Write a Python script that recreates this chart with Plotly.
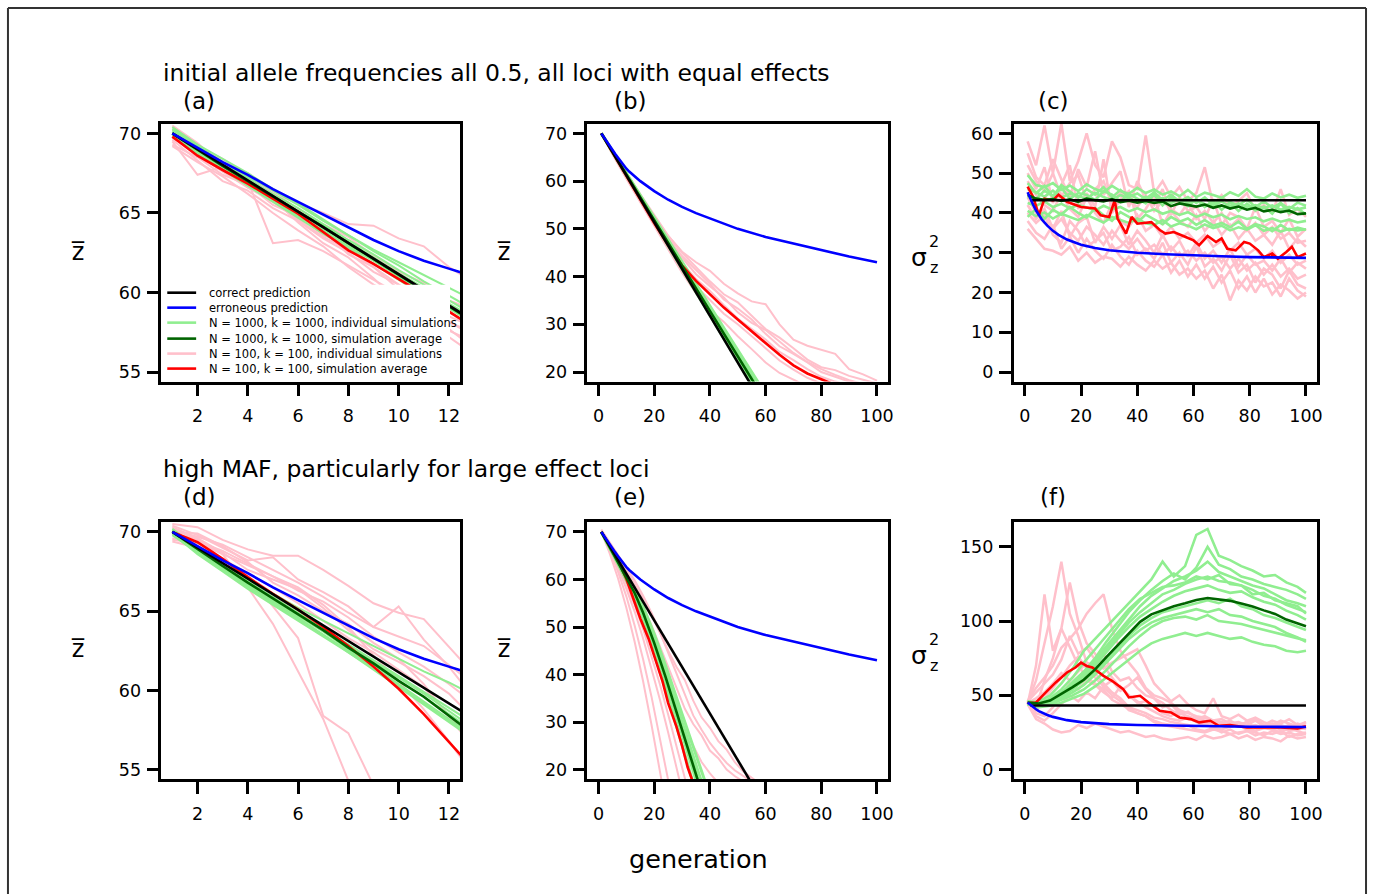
import plotly.graph_objects as go

W, H = 1376, 895

# ---------------- shared prediction curves ----------------
mean_black_gen = [1, 13, 55]
mean_black_val = [70.0, 58.2, 17.1]

mean_blue_gen = [1, 2, 3, 4, 5, 6, 7, 8, 9, 10, 11, 12, 13, 15, 20, 25, 30, 35, 40, 50, 60, 70, 80, 90, 100]
mean_blue_val = [70.0, 69.1, 68.2, 67.4, 66.5, 65.7, 64.9, 64.1, 63.3, 62.6, 62.0, 61.5, 61.0, 60.0, 57.9,
                 56.1, 54.6, 53.3, 52.2, 50.0, 48.3, 46.9, 45.5, 44.2, 43.0]

var_black_gen = [2, 100]
var_black_val = [43.2, 43.2]

var_blue_gen = [1, 2, 3, 4, 5, 6, 8, 10, 12, 15, 20, 25, 30, 40, 50, 60, 70, 80, 90, 100]
var_blue_val = [45.2, 43.5, 42.0, 40.6, 39.4, 38.4, 36.8, 35.5, 34.5, 33.3, 32.0, 31.2, 30.6, 30.0,
                29.6, 29.3, 29.1, 28.9, 28.8, 28.7]

# ---------------- panel (a) ----------------
a_gen = list(range(1, 14))
a_red = [69.8, 68.6, 67.7, 66.85, 65.9, 64.95, 63.8, 62.65, 61.8, 60.85, 59.9, 58.8, 57.8]
a_dkgreen = [70.0, 68.95, 67.95, 67.0, 66.05, 65.12, 64.12, 63.1, 62.1, 61.1, 60.12, 59.15, 58.15]
a_green_sims = [
    [70.3, 69.2, 68.2, 67.3, 66.4, 65.5, 64.5, 63.6, 62.7, 61.9, 61.1, 60.3, 59.5],
    [70.1, 69.0, 68.0, 67.1, 66.2, 65.3, 64.3, 63.3, 62.4, 61.4, 60.5, 59.5, 58.6],
    [69.9, 68.8, 67.8, 66.8, 65.8, 64.8, 63.9, 62.9, 62.0, 61.0, 60.0, 59.0, 58.0],
    [70.2, 69.1, 68.1, 67.2, 66.1, 65.1, 64.2, 63.2, 62.2, 61.2, 60.3, 59.3, 58.4],
    [70.0, 68.9, 67.9, 66.9, 66.0, 65.0, 64.0, 63.0, 62.1, 61.1, 60.1, 59.1, 58.1],
    [70.4, 69.3, 68.4, 67.5, 66.5, 65.6, 64.6, 63.6, 62.6, 61.7, 60.7, 59.8, 58.9],
    [69.8, 68.7, 67.7, 66.7, 65.7, 64.7, 63.7, 62.8, 61.8, 60.8, 59.8, 58.8, 57.8],
]
a_pink_sims = [
    [69.5, 67.4, 67.9, 66.6, 65.7, 64.6, 63.5, 62.7, 61.6, 60.5, 59.4, 58.2, 57.2],
    [70.2, 69.3, 68.2, 67.0, 63.1, 63.3, 62.6, 61.7, 60.8, 59.9, 59.0, 58.1, 57.5],
    [69.9, 69.0, 68.0, 67.1, 66.3, 65.6, 65.0, 64.3, 64.2, 63.4, 62.9, 61.6, 60.6],
    [70.4, 69.2, 68.4, 67.4, 66.2, 65.0, 63.9, 62.4, 61.6, 60.2, 59.1, 57.7, 56.5],
    [69.6, 68.3, 67.0, 66.4, 65.3, 64.5, 63.4, 62.5, 61.3, 60.5, 59.4, 58.5, 57.8],
    [70.0, 68.7, 67.6, 66.6, 65.9, 64.4, 63.1, 62.2, 60.9, 59.4, 58.3, 57.2, 56.1],
    [69.3, 68.5, 67.4, 66.8, 65.5, 64.8, 64.0, 62.9, 62.0, 61.2, 60.0, 59.1, 58.3],
    [70.5, 69.4, 68.0, 67.5, 66.4, 65.2, 64.3, 63.5, 62.3, 61.3, 60.6, 59.5, 58.9],
    [69.2, 68.2, 67.3, 66.2, 65.0, 63.9, 62.9, 61.6, 60.5, 59.7, 58.5, 57.6, 56.9],
    [69.7, 68.9, 67.8, 66.9, 65.8, 64.9, 63.6, 63.0, 62.2, 61.0, 59.8, 58.9, 57.4],
]

# ---------------- panel (b) ----------------
b_red_gen = [1, 5, 10, 15, 20, 25, 30, 35, 40, 45, 50, 55, 60, 65, 70, 75, 80, 85]
b_red = [70.0, 66.0, 60.9, 56.0, 51.2, 46.6, 42.3, 39.1, 36.2, 33.5, 31.0, 28.5, 26.0, 23.6, 21.4, 19.7, 18.5, 17.3]
b_green_gen = [1, 10, 20, 30, 40, 50, 60]
b_dkgreen = [70.0, 61.3, 51.8, 42.3, 32.8, 23.3, 13.8]
b_green_sims = [
    [70.0, 61.3, 51.6, 42.0, 32.4, 22.8, 13.2],
    [70.0, 61.5, 52.0, 42.6, 33.2, 23.8, 14.4],
    [70.0, 61.6, 52.3, 43.0, 33.8, 24.6, 15.4],
    [70.0, 61.1, 51.3, 41.6, 31.9, 22.2, 12.5],
]
b_pink_gen = [1, 5, 10, 15, 20, 25, 30, 35, 40, 45, 50, 55, 60, 65, 70, 75, 80, 85, 90, 95, 100]
b_pink_sims = [
    [70.0, 66.3, 61.5, 57.0, 52.5, 48.5, 45.2, 43.0, 41.2, 38.5, 36.5, 34.8, 34.2, 30.0, 26.8, 25.5, 24.6, 23.8, 20.6, 19.5, 18.2],
    [70.0, 66.0, 61.0, 56.4, 52.0, 47.8, 43.9, 40.5, 38.0, 35.6, 32.5, 30.3, 28.8, 26.5, 24.0, 22.1, 20.6, 19.4, 18.3, 17.5],
    [70.0, 65.8, 60.7, 55.8, 51.0, 46.0, 41.5, 38.0, 35.2, 32.2, 30.0, 27.6, 25.0, 22.4, 20.5, 18.8, 17.6],
    [70.0, 66.1, 61.2, 56.6, 52.3, 48.0, 44.3, 41.4, 38.5, 35.2, 33.3, 31.0, 28.0, 25.4, 23.8, 22.0, 20.0, 19.0, 18.0, 17.2],
    [70.0, 65.6, 60.5, 55.5, 50.6, 45.5, 40.8, 36.5, 33.0, 30.5, 27.5, 24.8, 22.0, 19.8, 18.3, 17.0],
    [70.0, 66.4, 61.6, 57.2, 52.8, 48.6, 45.0, 42.0, 39.0, 36.3, 34.6, 31.8, 29.0, 27.2, 25.0, 22.6, 21.0, 20.4, 19.2, 18.4, 17.6],
    [70.0, 65.9, 61.1, 56.2, 51.6, 47.0, 42.8, 39.5, 37.0, 34.0, 31.2, 29.0, 26.8, 24.2, 22.5, 20.6, 19.0, 18.0, 17.2],
]

# ---------------- panel (c) ----------------
c_gen = list(range(1, 101, 3))
c_dkgreen = [44.5, 43.6, 43.3, 43.5, 43.0, 43.4, 42.8, 43.6, 43.2, 42.9, 43.5, 42.7, 43.1, 42.6, 43.0, 42.5, 42.9,
             41.7, 42.4, 42.0, 41.6, 42.1, 41.3, 41.9, 41.1, 41.6, 40.8, 41.3, 40.4, 40.8, 40.2, 40.6, 39.7, 39.9]
c_red_gen = [1, 3, 5, 7, 10, 12, 15, 20, 25, 27, 30, 32, 33, 36, 38, 40, 45, 48, 50, 53, 57, 60, 62, 65, 68, 70,
             72, 75, 78, 80, 83, 85, 88, 90, 93, 95, 97, 99, 100]
c_red = [46.6, 44.0, 39.4, 43.6, 43.2, 44.6, 42.8, 41.5, 41.1, 39.4, 39.0, 43.2, 38.6, 34.8, 39.0, 37.3, 37.7,
         35.7, 34.8, 35.2, 34.0, 33.1, 31.9, 34.2, 32.7, 33.6, 31.0, 30.6, 32.7, 32.3, 30.6, 28.9, 29.8, 28.5,
         30.2, 31.5, 28.9, 29.4, 29.8]
c_green_sims = [
    [49.5, 47.0, 46.5, 47.5, 45.8, 46.9, 45.5, 47.2, 46.0, 45.2, 46.8, 45.5, 44.8, 46.3, 45.0, 45.9, 44.6, 45.4,
     44.2, 45.8, 44.0, 45.1, 44.5, 43.8, 45.2, 44.3, 46.0, 44.1, 43.6, 44.9, 43.9, 44.6, 43.8, 44.3],
    [40.5, 39.2, 40.1, 38.6, 39.8, 38.9, 38.2, 39.5, 38.5, 37.6, 39.0, 38.2, 37.5, 38.6, 37.4, 37.0, 38.2, 36.6,
     37.4, 36.8, 35.9, 37.1, 36.2, 36.8, 35.6, 36.4, 35.8, 36.9, 35.5, 36.2, 35.3, 36.0, 35.6, 35.9],
    [46.0, 45.2, 44.1, 45.6, 43.9, 44.8, 44.2, 43.6, 45.1, 44.0, 43.2, 44.5, 43.7, 42.8, 44.1, 43.0, 43.8, 42.5,
     43.4, 42.6, 43.3, 42.2, 41.8, 42.9, 41.6, 42.4, 41.5, 42.0, 41.2, 41.9, 40.8, 41.5, 40.9, 41.4],
    [42.5, 41.8, 42.9, 41.5, 42.3, 41.2, 42.0, 41.4, 40.6, 41.8, 40.9, 41.5, 40.4, 41.2, 40.2, 40.9, 39.8, 40.5,
     39.5, 40.2, 39.0, 39.8, 38.9, 39.6, 38.4, 39.2, 38.5, 38.9, 37.9, 38.6, 37.8, 38.3, 37.6, 38.0],
    [44.0, 43.5, 45.6, 44.2, 46.3, 43.6, 45.0, 44.5, 43.2, 45.5, 44.6, 42.9, 44.8, 43.6, 42.4, 44.6, 41.9, 43.9,
     42.8, 41.7, 43.5, 41.5, 43.0, 40.8, 42.6, 40.5, 42.3, 40.6, 41.6, 39.8, 42.4, 39.9, 41.2, 39.6],
    [47.5, 45.0, 46.8, 44.2, 47.0, 45.3, 43.8, 46.0, 44.6, 46.5, 43.9, 45.8, 44.0, 44.9, 43.5, 45.2, 43.2, 44.6,
     42.9, 44.0, 42.5, 43.9, 42.0, 43.6, 42.8, 41.9, 43.4, 41.5, 42.9, 41.3, 42.5, 41.0, 42.6, 41.8],
    [39.0, 41.0, 38.5, 40.8, 39.6, 41.5, 40.0, 38.8, 41.2, 39.4, 38.0, 40.2, 39.0, 37.6, 39.6, 38.4, 37.2, 39.0,
     37.8, 38.6, 37.0, 38.2, 36.8, 37.5, 36.4, 37.8, 36.0, 37.2, 36.6, 35.4, 37.0, 35.6, 36.3, 35.8],
]
c_pink_sims = [
    [58.0, 52.0, 62.0, 50.0, 62.5, 48.0, 53.0, 60.0, 52.0, 49.0, 58.0, 54.0, 47.0, 46.0, 59.5, 45.0, 48.0, 44.0,
     46.5, 43.0, 45.0, 51.5, 42.0, 44.5, 41.5, 43.0, 45.0, 40.5, 42.0, 40.0, 46.0, 39.5, 41.0, 39.0],
    [36.0, 33.5, 31.0, 30.5, 29.5, 31.5, 28.0, 30.0, 27.5, 29.0, 28.5, 26.5, 29.0, 27.0, 25.5, 28.0, 26.0, 27.5,
     24.5, 26.0, 23.5, 25.5, 21.0, 24.5, 18.0, 23.0, 20.5, 24.0, 21.5, 22.5, 19.0, 23.5, 20.5, 19.0],
    [52.0, 48.0, 45.5, 50.0, 44.0, 47.5, 49.5, 43.0, 46.0, 48.0, 42.0, 45.5, 43.0, 41.5, 44.5, 40.5, 43.0, 41.0,
     39.5, 42.5, 38.5, 40.5, 37.5, 40.0, 36.5, 38.5, 35.5, 37.5, 34.5, 36.5, 33.5, 35.0, 32.5, 33.0],
    [44.0, 40.0, 37.5, 36.0, 38.5, 35.0, 33.0, 36.5, 34.5, 32.0, 35.5, 33.0, 31.0, 33.5, 30.5, 32.0, 29.5, 31.5,
     29.0, 30.5, 28.0, 30.0, 27.5, 29.0, 26.0, 28.5, 25.5, 27.5, 24.5, 27.0, 24.0, 26.0, 23.5, 24.5],
    [48.0, 44.5, 42.0, 40.5, 45.0, 41.0, 39.0, 44.0, 40.0, 37.5, 42.5, 38.0, 36.5, 39.5, 35.5, 37.0, 34.0, 36.5,
     33.5, 35.0, 32.5, 34.5, 31.5, 33.0, 30.5, 32.5, 29.5, 31.0, 28.5, 30.5, 27.5, 29.5, 27.0, 28.0],
    [40.0, 37.5, 39.5, 34.5, 32.5, 38.0, 35.5, 31.5, 33.0, 35.0, 30.5, 31.5, 34.0, 29.5, 31.0, 28.5, 32.5, 27.5,
     30.0, 27.0, 31.5, 26.5, 28.5, 25.5, 29.5, 25.0, 27.0, 22.5, 26.0, 24.5, 21.0, 25.5, 22.0, 21.0],
    [55.0, 49.0, 47.0, 53.5, 48.5, 44.0, 51.0, 46.5, 55.5, 44.5, 47.5, 50.5, 41.5, 48.0, 43.5, 42.0, 46.0, 39.5,
     44.0, 40.5, 41.5, 38.5, 43.5, 37.0, 40.0, 39.0, 36.0, 41.5, 36.5, 38.0, 35.0, 38.5, 34.0, 36.0],
    [38.0, 35.0, 33.5, 37.0, 31.0, 34.0, 30.0, 33.5, 30.5, 28.5, 32.0, 29.0, 27.0, 30.5, 28.0, 26.5, 29.5, 25.0,
     28.0, 24.0, 27.0, 23.5, 26.5, 22.5, 25.5, 21.0, 24.0, 20.0, 23.5, 19.5, 22.0, 20.5, 18.5, 20.0],
    [50.0, 46.0, 51.5, 42.5, 47.0, 52.0, 41.0, 45.0, 41.5, 53.5, 40.0, 43.5, 45.5, 38.5, 41.0, 44.5, 37.0, 40.5,
     38.0, 36.5, 39.5, 35.5, 38.0, 34.5, 37.0, 33.5, 36.0, 33.0, 34.5, 32.0, 35.5, 31.0, 33.5, 31.5],
    [42.0, 38.5, 41.0, 36.0, 40.5, 34.0, 37.5, 39.0, 32.5, 36.5, 33.5, 37.0, 32.0, 35.5, 33.0, 30.0, 34.5, 30.5,
     33.0, 29.0, 32.5, 28.5, 30.5, 27.5, 31.0, 26.5, 29.5, 27.0, 28.0, 25.5, 28.5, 25.0, 27.5, 26.0],
]

# ---------------- panel (d) ----------------
d_gen = list(range(1, 14))
d_red = [70.0, 69.35, 68.3, 67.15, 66.1, 65.1, 64.0, 62.8, 61.5, 60.1, 58.5, 56.7, 55.0]
d_dkgreen = [70.0, 68.9, 67.85, 66.8, 65.8, 64.8, 63.8, 62.7, 61.7, 60.6, 59.6, 58.4, 57.2]
d_green_sims = [
    [70.1, 69.0, 68.0, 67.0, 66.1, 65.2, 64.4, 63.6, 62.8, 62.0, 61.2, 60.5, 59.7],
    [70.0, 68.8, 67.7, 66.7, 65.7, 64.7, 63.7, 62.6, 61.6, 60.6, 59.6, 58.5, 57.4],
    [69.9, 68.6, 67.5, 66.4, 65.4, 64.4, 63.4, 62.4, 61.3, 60.2, 59.1, 58.0, 56.9],
    [70.2, 69.0, 67.9, 66.9, 65.9, 64.9, 63.9, 62.9, 61.9, 60.9, 59.9, 58.9, 57.9],
    [69.8, 68.7, 67.6, 66.6, 65.6, 64.6, 63.5, 62.5, 61.5, 60.4, 59.3, 58.2, 57.1],
    [70.0, 68.9, 67.8, 66.8, 65.8, 64.8, 63.8, 62.8, 61.8, 60.8, 59.8, 58.7, 57.6],
    [70.1, 68.8, 67.6, 66.5, 65.5, 64.5, 63.5, 62.4, 61.4, 60.3, 59.2, 58.1, 57.0],
]
d_pink_sims = [
    [70.5, 70.3, 69.5, 68.9, 68.5, 68.5, 67.6, 66.6, 65.5, 64.9, 64.5, 62.8, 61.0],
    [70.2, 69.5, 68.6, 66.5, 64.2, 61.2, 58.2, 54.3],
    [69.8, 69.6, 68.2, 67.3, 65.3, 63.3, 58.4, 57.3, 54.0],
    [70.4, 69.8, 69.0, 68.2, 68.4, 67.0, 66.2, 65.3, 64.0, 65.3, 63.2, 61.5, 59.5],
    [69.5, 69.3, 68.6, 67.9, 67.2, 66.3, 65.6, 64.6, 63.4, 62.4, 61.5, 60.4, 59.2],
    [70.0, 69.9, 69.1, 68.1, 66.8, 66.0, 65.0, 64.2, 63.0, 62.0, 60.4, 58.3, 56.3],
    [69.6, 69.4, 68.8, 68.0, 67.2, 66.5, 65.4, 64.0, 62.2, 60.6, 58.8, 56.8, 54.6],
    [70.1, 69.7, 69.2, 68.4, 67.6, 66.8, 65.9, 64.9, 64.0, 63.4, 62.8, 61.6, 60.4],
    [69.4, 69.0, 68.3, 67.4, 66.5, 65.5, 64.4, 63.3, 62.4, 61.3, 60.2, 58.4, 56.6],
    [70.3, 69.6, 68.7, 67.6, 67.0, 66.4, 65.2, 63.8, 62.6, 61.8, 60.9, 59.8, 58.2],
]

# ---------------- panel (e) ----------------
e_red_gen = [1, 4, 7, 10, 12, 13, 15, 18, 20, 23, 25, 28, 30, 32, 35]
e_red = [70.0, 67.15, 64.0, 60.1, 56.7, 55.0, 51.8, 47.5, 44.0, 38.5, 34.0, 29.0, 25.0, 20.5, 15.5]
e_green_gen = [1, 4, 7, 10, 13, 16, 20, 24, 28, 32, 36, 40]
e_dkgreen = [70.0, 66.8, 63.7, 60.5, 57.1, 53.0, 46.6, 39.6, 32.3, 24.8, 17.2, 9.6]
e_green_sims = [
    [70.0, 66.6, 63.4, 60.1, 56.4, 51.8, 44.6, 37.0, 29.2, 20.5, 12.0, 5.0],
    [70.0, 67.0, 64.2, 61.2, 58.0, 54.3, 48.5, 42.0, 35.2, 28.3, 21.5, 14.5],
    [70.0, 66.9, 63.9, 60.8, 57.5, 53.6, 47.5, 40.8, 33.6, 26.3, 19.0, 12.0],
    [70.0, 66.7, 63.6, 60.4, 56.9, 52.6, 46.0, 38.8, 31.4, 23.6, 15.8, 8.0],
    [70.0, 66.8, 63.8, 60.6, 57.2, 53.1, 46.8, 39.8, 32.5, 25.0, 17.4, 10.0],
]
e_pink_gen = list(range(1, 59, 3))
e_pink_sims = [
    [70.0, 65.5, 60.2, 54.0, 46.8, 38.6, 29.5, 19.6, 10.0],
    [70.0, 66.0, 61.6, 56.4, 50.2, 43.2, 35.4, 27.0, 18.0, 9.0],
    [70.0, 66.3, 62.4, 58.0, 53.2, 47.6, 41.4, 34.8, 27.8, 20.6, 13.0],
    [70.0, 66.5, 63.0, 59.0, 54.6, 49.6, 44.0, 38.0, 31.6, 25.0, 18.2, 11.5],
    [70.0, 67.2, 64.6, 62.0, 59.0, 56.0, 52.6, 48.8, 45.0, 41.6, 38.8, 34.5, 31.0, 28.8, 26.0, 24.2, 21.5, 19.6, 18.4, 17.0],
    [70.0, 67.0, 64.2, 61.4, 58.0, 54.4, 50.4, 46.2, 41.6, 37.2, 32.8, 29.6, 27.2, 24.0, 22.4, 20.0, 18.6, 17.5],
    [70.0, 66.9, 63.9, 60.7, 57.2, 53.2, 48.6, 43.4, 37.8, 32.6, 28.4, 25.0, 21.6, 19.2, 17.2],
    [70.5, 67.8, 65.2, 62.6, 59.8, 56.6, 53.0, 49.0, 44.6, 40.0, 35.4, 31.4, 28.4, 25.6, 23.4, 21.4, 19.8, 18.6, 17.5],
]

# ---------------- panel (f) ----------------
f_green_gen = list(range(1, 98, 4)) + [100]
f_dkgreen = [45.2, 44.5, 46.5, 50.8, 55.5, 60.5, 67.5, 75.8, 83.5, 91.5, 99.5, 104.5, 107.5, 110.0, 112.0,
             114.2, 115.5, 114.8, 113.6, 111.8, 109.8, 107.2, 104.8, 101.0, 98.2, 96.5]
f_red_gen = [1, 4, 8, 11, 15, 18, 20, 22, 24, 28, 31, 35, 37, 41, 44, 48, 52, 55, 59, 62, 66, 69, 73, 79, 85,
             91, 97, 100]
f_red = [44.8, 45.2, 53.0, 58.7, 65.4, 68.7, 72.0, 69.8, 68.7, 63.1, 59.8, 54.2, 48.6, 49.7, 45.2, 39.6, 38.5,
         35.1, 34.0, 31.8, 32.9, 29.5, 30.0, 28.4, 28.4, 28.4, 27.8, 29.1]
f_green_sims = [
    [45, 46, 50, 58, 68, 80, 88, 96, 104, 112, 120, 128, 140, 130, 137, 158, 162, 144, 141, 137, 134, 130, 131, 126, 123, 119],
    [46, 44, 47, 52, 58, 65, 74, 83, 92, 101, 110, 117, 122, 127, 130, 134, 140, 133, 130, 127, 124, 122, 118, 114, 112, 110],
    [44, 43, 45, 49, 54, 60, 66, 74, 82, 90, 97, 102, 106, 108, 110, 112, 114, 112, 115, 110, 108, 104, 102, 99, 96, 94],
    [44, 42, 43, 45, 48, 51, 56, 62, 68, 74, 80, 85, 88, 90, 92, 90, 92, 90, 88, 89, 86, 84, 83, 80, 79, 80],
    [45, 44, 46, 50, 56, 62, 70, 79, 88, 96, 103, 108, 113, 117, 120, 122, 124, 121, 119, 120, 116, 113, 111, 107, 104, 101],
    [45, 43, 45, 48, 52, 57, 64, 72, 80, 88, 94, 99, 102, 104, 106, 108, 106, 108, 104, 103, 100, 98, 96, 92, 89, 86],
    [46, 45, 47, 51, 57, 64, 72, 81, 90, 99, 106, 112, 118, 121, 125, 128, 130, 127, 126, 124, 121, 117, 115, 111, 108, 106],
    [45, 44, 46, 51, 59, 66, 75, 86, 96, 106, 114, 121, 127, 132, 128, 136, 150, 138, 135, 130, 128, 125, 123, 121, 118, 115],
    [44, 43, 44, 47, 50, 54, 60, 67, 75, 83, 90, 96, 100, 102, 103, 101, 104, 100, 99, 98, 96, 94, 92, 90, 88, 87],
    [46, 44, 48, 54, 62, 72, 81, 90, 99, 108, 115, 119, 123, 124, 126, 130, 128, 131, 125, 124, 118, 119, 114, 112, 110, 105],
]
f_pink_gen = list(range(1, 101, 3))
f_pink_sims = [
    [45, 60, 85, 110, 140, 105, 90, 72, 65, 58, 52, 48, 42, 40, 38, 35, 34, 32, 31, 30, 29, 31, 28, 27, 29, 30, 27, 26, 28, 27, 29, 26, 27, 28],
    [44, 70, 118, 80, 95, 126, 100, 85, 78, 70, 62, 55, 50, 46, 42, 39, 36, 34, 33, 35, 32, 30, 33, 31, 29, 30, 32, 28, 29, 31, 28, 30, 29, 30],
    [46, 55, 62, 70, 82, 88, 95, 105, 112, 118, 95, 80, 72, 65, 55, 50, 48, 45, 40, 38, 36, 35, 33, 34, 31, 32, 30, 33, 29, 31, 30, 28, 31, 29],
    [45, 48, 52, 58, 65, 60, 66, 72, 70, 68, 72, 75, 78, 81, 70, 58, 52, 46, 50, 44, 40, 38, 48, 36, 34, 37, 33, 35, 32, 30, 33, 31, 29, 32],
    [44, 34, 31, 27, 25, 26, 30, 28, 31, 29, 27, 25, 26, 24, 22, 23, 21, 20, 21, 22, 20, 23, 21, 22, 24, 21, 23, 20, 22, 21, 19, 23, 21, 22],
    [45, 40, 48, 55, 62, 70, 76, 68, 62, 56, 50, 46, 40, 38, 36, 32, 30, 29, 28, 27, 26, 25, 27, 26, 24, 25, 26, 23, 25, 24, 26, 22, 24, 25],
    [45, 38, 36, 42, 50, 58, 54, 60, 57, 52, 48, 56, 50, 45, 46, 42, 38, 36, 40, 34, 33, 35, 32, 31, 33, 30, 32, 34, 30, 33, 31, 34, 30, 32],
    [46, 52, 58, 64, 74, 90, 78, 82, 74, 78, 66, 60, 62, 55, 50, 48, 42, 44, 38, 36, 34, 36, 33, 32, 30, 31, 29, 30, 28, 29, 27, 28, 30, 27],
    [45, 42, 60, 75, 95, 82, 70, 62, 58, 54, 47, 44, 41, 38, 36, 33, 31, 30, 28, 30, 27, 26, 28, 25, 27, 24, 26, 25, 23, 26, 24, 25, 23, 24],
    [45, 36, 33, 38, 44, 50, 46, 52, 48, 56, 60, 53, 57, 62, 54, 48, 45, 40, 37, 39, 35, 33, 30, 32, 29, 31, 28, 26, 29, 27, 25, 28, 26, 24],
]

# ---------------- text ----------------
row_titles = ["initial allele frequencies all 0.5, all loci with equal effects",
              "high MAF, particularly for large effect loci"]
panel_labels = ["(a)", "(b)", "(c)", "(d)", "(e)", "(f)"]
legend_labels = ["correct prediction", "erroneous prediction",
                 "N = 1000, k = 1000, individual simulations", "N = 1000, k = 1000, simulation average",
                 "N = 100, k = 100, individual simulations", "N = 100, k = 100, simulation average"]
x_label = "generation"

# ---------------- colours ----------------
C_BLACK, C_BLUE = "#000000", "#0000FF"
C_LTGREEN, C_DKGREEN = "#90EE90", "#006400"
C_PINK, C_RED = "#FFC0CB", "#FF0000"
legend_colors = [C_BLACK, C_BLUE, C_LTGREEN, C_DKGREEN, C_PINK, C_RED]

FONT = "DejaVu Sans"

# ---------------- layout geometry (pixels from top-left) ----------------
panels = [
    dict(xd=(162, 462), yd=(124, 382), xr=[0.56, 12.44], yr=[54.4, 70.6], xt=[2, 4, 6, 8, 10, 12], yt=[55, 60, 65, 70]),
    dict(xd=(590, 892), yd=(124, 382), xr=[-4, 104], yr=[18, 72], xt=[0, 20, 40, 60, 80, 100], yt=[20, 30, 40, 50, 60, 70]),
    dict(xd=(1018, 1323), yd=(124, 382), xr=[-4, 104], yr=[-2.4, 62.4], xt=[0, 20, 40, 60, 80, 100], yt=[0, 10, 20, 30, 40, 50, 60]),
    dict(xd=(162, 462), yd=(523, 780), xr=[0.56, 12.44], yr=[54.4, 70.6], xt=[2, 4, 6, 8, 10, 12], yt=[55, 60, 65, 70]),
    dict(xd=(590, 892), yd=(523, 780), xr=[-4, 104], yr=[18, 72], xt=[0, 20, 40, 60, 80, 100], yt=[20, 30, 40, 50, 60, 70]),
    dict(xd=(1018, 1323), yd=(523, 780), xr=[-4, 104], yr=[-6.4, 166.4], xt=[0, 20, 40, 60, 80, 100], yt=[0, 50, 100, 150]),
]

fig = go.Figure()


def line(i, x, y, color, width):
    fig.add_trace(go.Scatter(
        x=x[:len(y)], y=y, mode="lines", line=dict(color=color, width=width),
        xaxis="x" if i == 1 else f"x{i}", yaxis="y" if i == 1 else f"y{i}",
        hoverinfo="skip", showlegend=False))


SIM_W, AVG_W = 2, 2.6

# (a)
for s in a_pink_sims: line(1, a_gen, s, C_PINK, SIM_W)
for s in a_green_sims: line(1, a_gen, s, C_LTGREEN, SIM_W)
line(1, a_gen, a_red, C_RED, AVG_W)
line(1, a_gen, a_dkgreen, C_DKGREEN, AVG_W)
line(1, mean_black_gen, mean_black_val, C_BLACK, AVG_W)
line(1, mean_blue_gen, mean_blue_val, C_BLUE, AVG_W)
# (b)
for s in b_pink_sims: line(2, b_pink_gen, s, C_PINK, SIM_W)
for s in b_green_sims: line(2, b_green_gen, s, C_LTGREEN, SIM_W + 1)
line(2, b_red_gen, b_red, C_RED, AVG_W)
line(2, b_green_gen, b_dkgreen, C_DKGREEN, AVG_W)
line(2, mean_black_gen, mean_black_val, C_BLACK, AVG_W)
line(2, mean_blue_gen, mean_blue_val, C_BLUE, AVG_W)
# (c)
for s in c_pink_sims: line(3, c_gen, s, C_PINK, SIM_W + 0.6)
for s in c_green_sims: line(3, c_gen, s, C_LTGREEN, SIM_W + 0.6)
line(3, c_red_gen, c_red, C_RED, AVG_W)
line(3, c_gen, c_dkgreen, C_DKGREEN, AVG_W)
line(3, var_black_gen, var_black_val, C_BLACK, AVG_W)
line(3, var_blue_gen, var_blue_val, C_BLUE, AVG_W)
# (d)
for s in d_pink_sims: line(4, d_gen, s, C_PINK, SIM_W)
for s in d_green_sims: line(4, d_gen, s, C_LTGREEN, SIM_W)
line(4, d_gen, d_red, C_RED, AVG_W)
line(4, d_gen, d_dkgreen, C_DKGREEN, AVG_W)
line(4, mean_black_gen, mean_black_val, C_BLACK, AVG_W)
line(4, mean_blue_gen, mean_blue_val, C_BLUE, AVG_W)
# (e)
for s in e_pink_sims: line(5, e_pink_gen, s, C_PINK, SIM_W)
for s in e_green_sims: line(5, e_green_gen, s, C_LTGREEN, SIM_W + 1)
line(5, e_red_gen, e_red, C_RED, AVG_W)
line(5, e_green_gen, e_dkgreen, C_DKGREEN, AVG_W)
line(5, mean_black_gen, mean_black_val, C_BLACK, AVG_W)
line(5, mean_blue_gen, mean_blue_val, C_BLUE, AVG_W)
# (f)
for s in f_pink_sims: line(6, f_pink_gen, s, C_PINK, SIM_W + 0.5)
for s in f_green_sims: line(6, f_green_gen, s, C_LTGREEN, SIM_W + 0.6)
line(6, f_red_gen, f_red, C_RED, AVG_W)
line(6, f_green_gen, f_dkgreen, C_DKGREEN, AVG_W)
line(6, var_black_gen, var_black_val, C_BLACK, AVG_W)
line(6, var_blue_gen, var_blue_val, C_BLUE, AVG_W)

# ---------------- axes ----------------
tickfont = dict(family=FONT, size=17.5, color="black")
common = dict(showline=True, linecolor="black", linewidth=2.5, mirror=True, ticks="outside", ticklen=12,
              tickwidth=2.5, tickcolor="black", showgrid=False, zeroline=False, tickfont=tickfont,
              fixedrange=True)
layout_axes = {}
for i, p in enumerate(panels, start=1):
    xs = "" if i == 1 else str(i)
    layout_axes[f"xaxis{xs}"] = dict(common, domain=[p["xd"][0] / W, p["xd"][1] / W], range=p["xr"],
                                     tickvals=p["xt"], anchor=f"y{xs}", ticklabelstandoff=5)
    layout_axes[f"yaxis{xs}"] = dict(common, domain=[1 - p["yd"][1] / H, 1 - p["yd"][0] / H], range=p["yr"],
                                     tickvals=p["yt"], anchor=f"x{xs}", ticklabelstandoff=2)

ann = []


def text(x, y, s, size, xanchor="center", yanchor="middle", **kw):
    ann.append(dict(x=x / W, y=1 - y / H, xref="paper", yref="paper", text=s, showarrow=False,
                    xanchor=xanchor, yanchor=yanchor, font=dict(family=FONT, size=size, color="black", **kw)))


text(162, 73, row_titles[0], 23.5, xanchor="left")
text(162, 470, row_titles[1], 23.5, xanchor="left")
for lab, (cx, cy) in zip(panel_labels, [(200, 101), (633, 101), (1058, 101), (200, 498), (633, 498), (1058, 498)]):
    text(cx, cy, lab, 23)
text(702, 860, x_label, 25.5)
for cx, cy in [(78, 252), (506, 252), (78, 650), (506, 650)]:
    text(cx, cy, "z\u0305", 24)
for cy in (258, 656):
    text(923, cy, "σ", 25)
    text(938, cy - 16, "2", 16)
    text(938, cy + 10, "z", 16)

shapes = []
# outer frame
for x0, y0, x1, y1 in [(8, 8, 1372, 8), (8, 8, 8, H), (1372, 8, 1372, H)]:
    shapes.append(dict(type="line", xref="paper", yref="paper", x0=x0 / W, y0=1 - y0 / H, x1=x1 / W,
                       y1=1 - y1 / H, line=dict(color="#333333", width=2)))
# legend of panel (a)
shapes.append(dict(type="rect", xref="paper", yref="paper", x0=164 / W, x1=452 / W, y0=1 - 379 / H,
                   y1=1 - 285 / H, fillcolor="white", line=dict(width=0), layer="above"))
legend_rows = [293, 308, 323, 339, 354, 369]
for lab, col, ry in zip(legend_labels, legend_colors, legend_rows):
    shapes.append(dict(type="line", xref="paper", yref="paper", x0=168 / W, x1=197 / W, y0=1 - ry / H,
                       y1=1 - ry / H, line=dict(color=col, width=2.6), layer="above"))
    text(208, ry, lab, 11.5, xanchor="left")

fig.update_layout(width=W, height=H, autosize=False, margin=dict(l=0, r=0, t=0, b=0),
                  paper_bgcolor="white", plot_bgcolor="white", showlegend=False, hovermode=False,
                  annotations=ann, shapes=shapes, **layout_axes)

fig.write_html("out.html", config={"displayModeBar": False},
               post_script="document.body.style.margin='0px';document.body.style.overflow='hidden';")
